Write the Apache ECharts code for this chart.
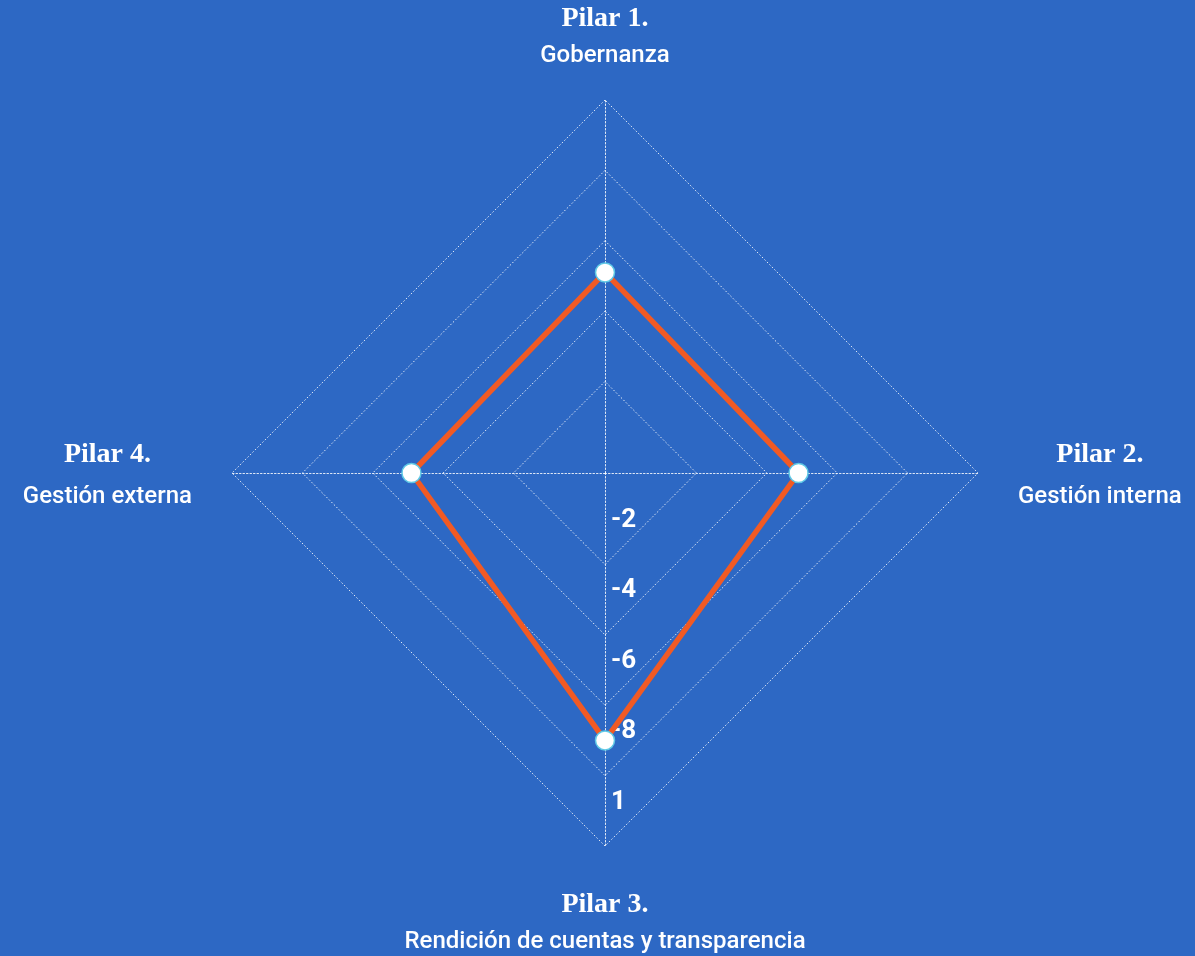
<!DOCTYPE html>
<html><head><meta charset="utf-8">
<script src="https://cdn.jsdelivr.net/npm/echarts@6/dist/echarts.min.js"></script>
<style>html,body{margin:0;padding:0;background:#2d68c4;} #c{width:1195px;height:956px;}</style>
</head><body><div id="c"></div>
<script>
// ---- data ----
const pillarTitles = ['Pilar 1.', 'Pilar 2.', 'Pilar 3.', 'Pilar 4.'];
const pillarNames = ['Gobernanza', 'Gestión interna', 'Rendición de cuentas y transparencia', 'Gestión externa'];
const scores = [0.51, 0.49, 0.70, 0.49];
const ringValues = [0.2, 0.4, 0.6, 0.8, 1.0];
const tickLabels = ['-2', '-4', '-6', '-8', '1'];
const axisMin = -0.06, axisMax = 1;

// ---- layout / style ----
const BG = '#2d68c4';
const DOT = 'rgba(255,255,255,0.85)';
const DASH = [1.5, 2];
const CENTER = [605, 473];
const R = 373;
// ECharts radar runs counter-clockwise from the top; reference runs clockwise
const order = [0, 3, 2, 1];
const BOTTOM = 2; // display index of Pilar 3

const chart = echarts.init(document.getElementById('c'), null, {renderer: 'canvas'});

const serif = { fontFamily: 'Liberation Serif', fontWeight: 'bold', fontSize: 28, color: '#fff', align: 'center' };
const sans = { fontFamily: 'Roboto', fontWeight: 500, fontSize: 24, color: '#fff', align: 'center' };

const mainRadar = {
  center: CENTER, radius: R, startAngle: 90, shape: 'polygon', splitNumber: 1,
  indicator: order.map(i => ({ name: String(i), min: axisMin, max: axisMax })),
  axisLine: { show: true, lineStyle: { color: DOT, type: DASH, width: 1 } },
  splitLine: { show: false }, splitArea: { show: false },
  axisLabel: { show: false }, axisTick: { show: false },
  nameGap: 40,
  axisName: {
    color: '#fff',
    formatter: function (name) {
      const i = +name;
      const k = i === 0 ? 'T' : (i === 2 ? 'B' : 'S');
      return '{p' + k + '|' + pillarTitles[i] + '}\n{s' + k + '|' + pillarNames[i] + '}';
    },
    rich: {
      pT: Object.assign({}, serif, { lineHeight: 66 }),
      sT: Object.assign({}, sans, { lineHeight: 8 }),
      pS: Object.assign({}, serif, { lineHeight: 47 }),
      sS: Object.assign({}, sans, { lineHeight: 37 }),
      pB: Object.assign({}, serif, { lineHeight: 37 }),
      sB: Object.assign({}, sans, { lineHeight: 37 })
    }
  }
};

const ringRadars = ringValues.map((v, k) => ({
  center: CENTER, radius: R * (v - axisMin) / (axisMax - axisMin), startAngle: 90, shape: 'polygon', splitNumber: 1,
  indicator: order.map((i, d) => {
    const ind = { name: '', min: axisMin, max: v };
    if (d === BOTTOM) ind.axisLabel = { show: true };
    return ind;
  }),
  axisLine: { show: false }, axisTick: { show: false },
  splitArea: { show: false },
  splitLine: { show: true, lineStyle: { color: ['rgba(0,0,0,0)', DOT], type: DASH, width: 1 } },
  axisName: { show: false },
  axisLabel: {
    show: false, color: '#fff', fontFamily: 'Roboto', fontWeight: 'bold', fontSize: 26,
    lineHeight: 44, margin: 6,
    formatter: function (val) { return Math.abs(val - v) < 1e-9 ? tickLabels[k] + '\n\n' : ''; }
  }
}));

chart.setOption({
  backgroundColor: BG,
  animation: false,
  radar: [mainRadar].concat(ringRadars),
  series: [{
    type: 'radar', radarIndex: 0,
    symbol: 'circle', symbolSize: 19,
    itemStyle: { color: '#fff', borderColor: '#5ec8e5', borderWidth: 1.5 },
    lineStyle: { color: '#f15a24', width: 5.5 },
    z: 5,
    data: [{ value: order.map(i => scores[i]) }]
  }]
});
</script></body></html>
